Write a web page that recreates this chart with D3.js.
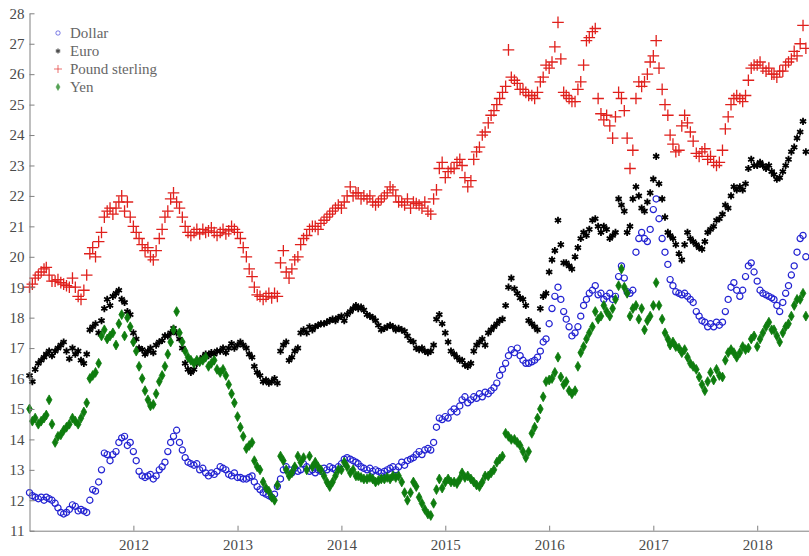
<!DOCTYPE html>
<html>
<head>
<meta charset="utf-8">
<script src="https://cdn.jsdelivr.net/npm/d3@7"></script>
<style>
body { margin: 0; background: #fff; }
svg text { font-family: "Liberation Serif", "Times New Roman", serif; }
</style>
</head>
<body>
<div id="chart"></div>
<script>
// sample days within each month (3 per month)
var sampleDays = [1, 11, 21];
var yearTicks = [2012, 2013, 2014, 2015, 2016, 2017, 2018];
var valueTicks = [11, 12, 13, 14, 15, 16, 17, 18, 19, 20, 21, 22, 23, 24, 25, 26, 27, 28];
var seriesNames = ["Dollar", "Euro", "Pound sterling", "Yen"];

var dollar = [
  12.25,12.15,12.1, 12.05,12.1,12.0, 12.1,12.05,12.0, 11.9,11.75,11.6, 11.55,11.6,11.7, 11.85,11.8,11.65,
  11.7,11.65,11.6, 12.0,12.35,12.3, 12.6,13.0,13.55, 13.5,13.3,13.5, 13.6,13.9,14.05, 14.1,13.8,13.9,
  13.6,13.3,12.95, 12.8,12.75,12.8, 12.85,12.7,12.8, 13.0,13.1,13.25, 13.6,13.9,14.1, 14.3,13.9,13.65,
  13.4,13.25,13.2, 13.15,13.2,13.0, 13.05,12.9,12.8, 12.9,12.85,12.95, 13.1,13.05,13.0, 12.85,12.8,12.9,
  12.75,12.75,12.7, 12.7,12.75,12.8, 12.6,12.45,12.35, 12.25,12.2,12.15, 12.1,12.2,12.45, 12.7,13.0,13.1,
  13.0,12.9,13.05, 12.95,13.0,13.2, 13.1,12.95,13.0, 12.9,13.0,12.95, 13.05,13.0,13.1, 13.05,13.0,13.1,
  13.2,13.35,13.4, 13.35,13.3,13.25, 13.2,13.1,13.05, 13.0,13.05,12.95, 13.0,12.95,12.9, 12.95,13.0,13.05,
  13.1,13.0,13.1, 13.25,13.15,13.3, 13.35,13.4,13.5, 13.6,13.5,13.65, 13.7,13.65,13.9, 14.4,14.7,14.65,
  14.75,14.7,14.9, 15.0,14.9,15.1, 15.3,15.4,15.2, 15.3,15.4,15.35, 15.5,15.4,15.55, 15.5,15.6,15.7,
  15.85,16.1,16.3, 16.5,16.75,16.95, 16.85,17.0,16.75, 16.6,16.5,16.5, 16.55,16.6,16.7, 16.9,17.2,17.3,
  17.8,18.3,18.7, 19.0,18.6,18.2, 17.95,17.7,17.4, 17.5,17.7,18.05, 18.4,18.6,18.8, 18.9,19.05,18.75,
  18.8,18.6,18.7, 18.8,18.6,18.7, 19.35,19.7,19.3, 18.85,18.8,18.9, 20.15,20.6,20.8, 20.6,20.5,20.9,
  21.55,21.9,21.25, 20.6,20.15,19.75, 19.25,19.05,18.85, 18.8,18.75,18.8, 18.7,18.6,18.5, 18.2,18.05,17.9,
  17.85,17.7,17.8, 17.7,17.85,17.75, 17.85,18.2,18.6, 19.0,19.15,18.9, 18.7,18.9,19.35, 19.7,19.8,19.5,
  19.2,18.9,18.8, 18.75,18.7,18.65, 18.6,18.4,18.2, 18.5,18.8,19.05, 19.4,19.7,20.15, 20.6,20.7,20.0
];

var euro = [
  16.1,15.9,16.3, 16.5,16.6,16.7, 16.8,16.9,16.75, 16.9,17.0,17.1, 17.2,16.9,16.65, 17.0,16.8,16.9,
  16.6,16.5,16.8, 17.6,17.7,17.8, 17.5,17.9,18.3, 18.6,18.4,18.7, 18.8,18.9,18.6, 18.5,18.2,18.1,
  17.5,17.3,17.0, 16.95,16.8,16.9, 17.0,16.85,17.1, 17.2,17.25,17.4, 17.4,17.5,17.65, 17.5,17.3,17.0,
  16.5,16.3,16.2, 16.3,16.5,16.6, 16.7,16.8,16.75, 16.85,16.8,16.9, 16.9,17.0,16.85, 17.0,17.15,17.0,
  17.1,17.2,17.1, 17.0,16.8,16.7, 16.4,16.2,16.1, 15.9,15.95,15.85, 15.9,16.0,15.85, 16.9,17.1,17.2,
  16.6,16.7,16.9, 17.0,17.5,17.6, 17.5,17.7,17.6, 17.7,17.75,17.8, 17.8,17.85,17.9, 17.95,17.9,18.0,
  18.05,17.9,18.1, 18.2,18.3,18.4, 18.3,18.35,18.25, 18.1,18.05,18.0, 17.9,17.75,17.6, 17.65,17.7,17.75,
  17.7,17.6,17.65, 17.6,17.55,17.4, 17.25,17.2,17.0, 16.95,17.0,16.9, 16.85,16.9,17.1, 17.95,18.1,17.8,
  17.5,17.2,16.9, 16.8,16.7,16.6, 16.6,16.45,16.4, 16.5,16.9,17.1, 17.2,17.3,17.1, 17.5,17.6,17.7,
  17.8,17.9,17.95, 18.4,19.0,19.3, 18.95,18.8,18.65, 18.6,18.4,17.9, 17.8,17.7,17.6, 18.3,18.7,18.8,
  19.5,19.9,20.2, 21.2,20.4,19.8, 19.8,19.7,19.6, 20.0,20.3,20.6, 20.8,20.7,20.9, 21.2,21.25,21.0,
  20.8,21.0,20.9, 20.6,20.7,20.8, 21.9,21.7,21.5, 20.8,21.0,21.9, 22.3,22.0,21.6, 21.5,21.8,22.1,
  22.55,23.3,22.4, 21.9,21.3,20.8, 20.7,20.6,20.4, 20.1,19.9,20.4, 20.8,20.6,20.5, 20.4,20.3,20.25,
  20.5,20.8,20.9, 21.0,21.2,21.25, 21.4,21.7,21.6, 22.0,22.3,22.2, 22.3,22.2,22.4, 22.9,23.2,23.0,
  23.0,23.1,23.0, 22.9,23.0,22.8, 22.7,22.55,22.6, 22.8,23.0,23.2, 23.45,23.6,23.9, 24.1,24.45,23.45
];

var pound = [
  19.0,19.1,19.3, 19.4,19.5,19.6, 19.65,19.4,19.2, 19.2,19.25,19.15, 19.1,19.05,19.0, 19.3,19.0,18.7,
  18.6,18.9,19.4, 20.1,20.3,20.0, 20.5,20.8,21.3, 21.5,21.6,21.4, 21.6,21.8,22.0, 21.5,21.8,21.3,
  21.0,20.8,20.6, 20.4,20.2,20.3, 20.0,19.9,20.2, 20.6,20.9,21.3, 21.5,21.9,22.1, 21.8,21.6,21.3,
  21.0,20.8,20.7, 20.8,20.9,20.75, 20.9,20.8,20.85, 20.95,20.8,20.7, 20.8,20.9,20.75, 20.85,21.0,20.9,
  20.8,20.6,20.3, 20.0,19.6,19.35, 19.0,18.75,18.7, 18.6,18.7,18.8, 18.65,18.8,18.7, 19.8,20.2,19.5,
  19.3,19.6,19.9, 20.0,20.4,20.6, 20.7,20.9,21.0, 21.0,20.9,21.1, 21.2,21.3,21.4, 21.5,21.6,21.7,
  21.6,21.8,22.0, 22.3,22.0,22.1, 22.1,21.9,22.0, 21.9,22.0,21.8, 21.7,21.8,21.9, 22.0,22.1,22.3,
  22.2,22.0,21.8, 21.8,21.7,21.9, 21.6,21.8,21.75, 21.7,21.6,21.8, 21.5,21.4,21.9, 22.2,22.9,23.1,
  22.6,22.8,22.9, 22.9,23.1,23.2, 23.0,22.6,22.3, 22.5,23.2,23.45, 23.6,24.0,24.1, 24.4,24.65,24.8,
  25.0,25.2,25.4, 25.6,26.8,25.9, 25.8,25.7,25.5, 25.5,25.4,25.3, 25.3,25.2,25.4, 25.75,25.9,26.3,
  26.2,26.4,26.9, 27.7,26.5,25.4, 25.3,25.2,25.1, 25.1,25.5,25.75, 26.3,27.1,27.2, 27.4,27.5,25.2,
  24.7,24.5,24.65, 24.3,23.9,24.6, 25.4,25.2,24.8, 23.9,22.9,23.5, 25.2,25.75,25.6, 25.75,26.0,26.4,
  26.6,27.1,26.2, 25.5,25.0,24.65, 24.0,23.7,23.45, 23.5,24.3,24.65, 24.4,24.1,23.8, 23.4,23.3,23.45,
  23.55,23.2,23.3, 23.1,23.0,23.1, 23.5,24.2,24.6, 25.0,25.2,25.3, 25.2,25.1,25.3, 25.8,26.2,26.3,
  26.3,26.4,26.2, 26.1,26.2,26.0, 26.0,25.9,26.1, 26.1,26.3,26.4, 26.5,26.75,26.6, 27.0,27.6,26.85
];

var yen = [
  15.0,14.6,14.7, 14.5,14.6,14.7, 14.8,15.3,14.5, 13.9,14.1,14.15, 14.3,14.4,14.5, 14.7,14.6,14.5,
  14.7,14.9,15.2, 16.0,16.1,16.2, 16.5,17.4,17.6, 17.3,17.4,17.5, 17.1,17.8,18.1, 17.4,18.0,17.7,
  17.2,16.9,16.4, 16.0,15.6,15.3, 15.1,15.15,15.5, 15.9,16.1,16.4, 16.8,17.2,17.6, 18.2,17.5,17.2,
  16.9,16.7,16.6, 16.5,16.6,16.55, 16.6,16.7,16.4, 16.5,16.6,16.3, 16.2,16.3,16.1, 15.8,15.5,15.2,
  14.75,14.4,14.1, 13.7,13.8,13.9, 13.3,13.1,13.0, 12.6,12.4,12.3, 12.1,12.0,12.5, 13.45,13.3,13.0,
  12.8,12.9,13.1, 13.45,13.25,13.4, 13.0,13.45,13.1, 13.25,13.1,13.0, 12.8,12.6,12.45, 12.6,12.8,13.0,
  13.0,13.25,13.1, 12.9,13.0,12.8, 12.8,12.75,12.7, 12.7,12.75,12.7, 12.6,12.65,12.7, 12.7,12.75,12.7,
  12.8,12.75,12.8, 12.6,12.25,12.0, 12.25,12.6,12.45, 12.1,11.9,11.7, 11.55,11.5,11.9, 12.35,12.7,12.4,
  12.6,12.7,12.6, 12.6,12.55,12.7, 12.9,12.75,12.8, 12.7,12.6,12.5, 12.45,12.6,12.8, 12.8,12.9,13.0,
  13.25,13.35,13.45, 14.2,14.1,14.0, 14.0,13.9,13.8, 13.6,13.4,13.6, 14.2,14.4,14.7, 15.0,15.4,15.9,
  15.95,16.0,16.2, 16.7,16.05,15.8, 15.9,15.6,15.5, 15.6,16.4,16.85, 17.05,17.3,17.5, 17.7,18.2,17.95,
  18.05,18.4,18.2, 18.05,18.3,18.6, 19.05,19.6,19.0, 18.8,18.05,18.3, 18.4,17.95,18.3, 17.6,17.9,18.05,
  18.4,19.15,18.4, 17.95,17.5,17.3, 17.1,17.2,17.05, 17.0,16.85,16.95, 16.7,16.5,16.4, 16.3,16.05,15.8,
  15.6,15.9,16.2, 15.95,16.3,16.1, 16.05,16.6,16.85, 16.95,16.85,16.7, 16.85,17.05,16.95, 17.0,17.3,17.4,
  17.05,17.3,17.5, 17.7,17.85,17.6, 17.6,17.4,17.2, 17.5,17.7,17.8, 18.05,18.4,18.6, 18.6,18.8,18.05
];

var width = 809, height = 556;

// one date per value: day 1, 11, 21 of each month from Jan 2011 to Jun 2018
var dates = [];
d3.timeMonth.range(new Date(2011, 0, 1), new Date(2018, 6, 1)).forEach(function(m) {
  sampleDays.forEach(function(d) { dates.push(new Date(m.getFullYear(), m.getMonth(), d)); });
});

var svg = d3.select("#chart")
  .append("svg")
  .attr("width", width)
  .attr("height", height);

var x = d3.scaleTime()
  .domain([new Date(2011, 0, 1), new Date(2018, 6, 2)])
  .range([29.5, 809]);

var y = d3.scaleLinear()
  .domain([11, 28])
  .range([530.7, 13.3]);

// markers
function drawSeries(values, cls, symbol, size, fill, stroke, sw) {
  var gen = d3.symbol().type(symbol).size(size);
  svg.append("g")
    .attr("class", cls)
    .selectAll("path")
    .data(values)
    .enter()
    .append("path")
    .attr("transform", function(d, i) { return "translate(" + x(dates[i]) + "," + y(d) + ")"; })
    .attr("d", gen)
    .attr("fill", fill)
    .attr("stroke", stroke)
    .attr("stroke-width", sw);
}

var asterisk = d3.symbolAsterisk || d3.symbolCross;
var plus = d3.symbolPlus || d3.symbolCross;

var styles = [
  {data: dollar, symbol: d3.symbolCircle, size: 30, fill: "none", stroke: "#2323d2", sw: 1.2},
  {data: euro, symbol: asterisk, size: 36, fill: "none", stroke: "#000", sw: 1.8},
  {data: pound, symbol: plus, size: 46, fill: "none", stroke: "#e0201c", sw: 1.3},
  {data: yen, symbol: d3.symbolDiamond, size: 28, fill: "#0e7c0e", stroke: "#0e7c0e", sw: 0.8}
];

styles.forEach(function(s, k) {
  drawSeries(s.data, "series" + k, s.symbol, s.size, s.fill, s.stroke, s.sw);
});

// axes
var xAxis = svg.append("g")
  .attr("transform", "translate(0," + y(11) + ")")
  .call(d3.axisBottom(x)
    .tickValues(yearTicks.map(function(yr) { return new Date(yr, 0, 1); }))
    .tickFormat(d3.timeFormat("%Y"))
    .tickSize(-5)
    .tickSizeOuter(0)
    .tickPadding(9));

var yAxis = svg.append("g")
  .attr("transform", "translate(" + x(new Date(2011, 0, 1)) + ",0)")
  .call(d3.axisLeft(y)
    .tickValues(valueTicks)
    .tickSize(-5)
    .tickSizeOuter(0)
    .tickPadding(5));

[xAxis, yAxis].forEach(function(a) {
  a.select(".domain").attr("stroke", "#808080");
  a.selectAll(".tick line").attr("stroke", "#808080");
  a.selectAll(".tick text")
    .attr("fill", "#4a4a4a")
    .style("font-size", "15px")
    .style("font-family", "'Liberation Serif', 'Times New Roman', serif");
});

// legend
var legend = svg.append("g").attr("transform", "translate(58,33)");
styles.forEach(function(s, k) {
  var row = legend.append("g").attr("transform", "translate(0," + (k * 18) + ")");
  row.append("path")
    .attr("d", d3.symbol().type(s.symbol).size(s.size * 0.5)())
    .attr("fill", s.fill)
    .attr("stroke", s.stroke)
    .attr("stroke-width", s.sw * 0.7)
    .attr("opacity", 0.7);
  row.append("text")
    .attr("x", 12)
    .attr("dy", "0.35em")
    .style("font-size", "15px")
    .attr("fill", "#666")
    .text(seriesNames[k]);
});
</script>
</body>
</html>
